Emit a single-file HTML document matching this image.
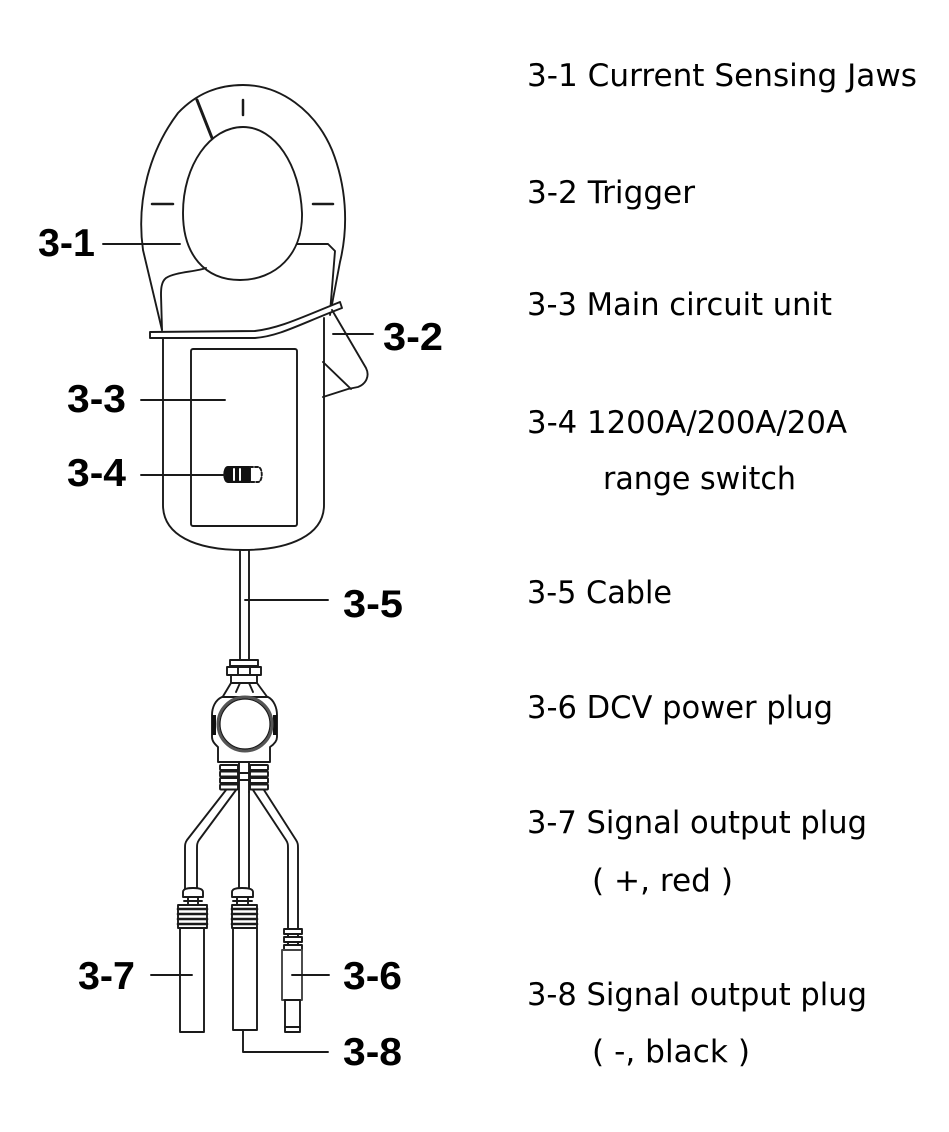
<!DOCTYPE html>
<html><head><meta charset="utf-8"><style>
html,body{margin:0;padding:0;background:#fff;}
svg{display:block;}
.r{font-family:"DejaVu Sans","Liberation Sans",sans-serif;font-size:31px;fill:#000;}
.b{font-family:"Liberation Sans",Arial,sans-serif;font-weight:bold;font-size:39px;fill:#000;}
</style></head><body>
<svg width="949" height="1132" viewBox="0 0 949 1132" xmlns="http://www.w3.org/2000/svg">
<rect width="949" height="1132" fill="#fff"/>
<g fill="none" stroke="#1a1a1a" stroke-width="1.9" stroke-linejoin="round" stroke-linecap="round">
  <!-- outer jaw -->
  <path d="M162 330 L143 250 C136 200 150 150 178 113 C198 92 220 85 243 85 C280 85 315 110 332 150 C346 185 349 225 340 262 L330 315"/>
  <!-- inner hole -->
  <path d="M243 127 C275 127 300 165 302 213 C303 255 275 280 240 280 C205 280 183 255 183 213 C183 165 210 127 243 127 Z"/>
  <!-- left lower jaw edge -->
  <path d="M206 268 C195 272 175 272 166 278 C161 282 161 290 161 295 L162 330"/>
  <!-- right lower jaw edge -->
  <path d="M297 244 L328 244 L335 251 L330 313"/>
  <!-- ticks -->
  <path d="M197 100 L212 138" stroke-width="3"/>
  <path d="M243 100 L243 115" stroke-width="2.5"/>
  <path d="M152 204 L173 204" stroke-width="2.5"/>
  <path d="M313 204 L333 204" stroke-width="2.5"/>
  <!-- body -->
  <path d="M163 338 L163 505 C163 535 195 550 243 550 C290 550 324 535 324 505 L324 318"/>
  <!-- band -->
  <path d="M150 332 L255 331 C280 328 300 318 340 302 L342 308 C300 324 280 336 255 338 L150 338 Z" fill="#fff"/>
  <!-- inner rect -->
  <rect x="191" y="349" width="106" height="177" rx="2"/>
  <!-- trigger -->
  <path d="M332 310 L366 368 C370 376 366 384 358 387 L348 389 L323 397"/>
  <path d="M323 362 L351 389"/>
  <!-- switch -->
  <path d="M250 467 L228 467 C223 467 223 482 228 482 L250 482 Z" fill="#111" stroke="#111"/>
  <path d="M234 469 L234 480 M240 469 L240 480" stroke="#fff" stroke-width="2"/>
  <path d="M250 467 L258 467 C263 467 263 482 258 482 L250 482" stroke-dasharray="3 2"/>
  <!-- cable -->
  <path d="M240 550 L240 660 M249 550 L249 660"/>
  <!-- connector top -->
  <rect x="230" y="660" width="28" height="6" fill="#fff"/>
  <rect x="227" y="667" width="34" height="8" fill="#fff"/>
  <path d="M238 667 L238 675 M250 667 L250 675"/>
  <rect x="231" y="675" width="26" height="8" fill="#fff"/>
  <path d="M231 683 L222 698 M257 683 L268 698"/>
  <path d="M240 683 L236 692 M249 683 L253 692"/>
  <!-- housing -->
  <path d="M222 697 C215 700 212 708 212 715 L212 737 C212 742 216 745 218 747 L218 762 L270 762 L270 747 C273 745 277 742 277 737 L277 715 C277 708 274 700 268 697 Z" fill="#fff"/>
  <rect x="212" y="715" width="4" height="20" fill="#111" stroke="none"/>
  <rect x="273" y="715" width="4" height="20" fill="#111" stroke="none"/>
  <circle cx="245" cy="724" r="27" stroke="#555" stroke-width="3"/>
  <circle cx="245" cy="724" r="25" stroke-width="1.2"/>
  <!-- ribs -->
  <rect x="220" y="765" width="18" height="5" rx="1" fill="#fff"/>
  <rect x="220" y="771.5" width="18" height="5" rx="1" fill="#fff"/>
  <rect x="220" y="778" width="18" height="5" rx="1" fill="#fff"/>
  <rect x="220" y="784.5" width="18" height="5" rx="1" fill="#fff"/>
  <rect x="250" y="765" width="18" height="5" rx="1" fill="#fff"/>
  <rect x="250" y="771.5" width="18" height="5" rx="1" fill="#fff"/>
  <rect x="250" y="778" width="18" height="5" rx="1" fill="#fff"/>
  <rect x="250" y="784.5" width="18" height="5" rx="1" fill="#fff"/>
  <path d="M238 773 L250 773 M238 780 L250 780 M239 762 L239 792 M249 762 L249 792"/>
  <!-- cables -->
  <path d="M226 790 L187 840 C185 843 185 845 185 848 L185 890"/>
  <path d="M236 790 L199 840 C197 843 197 845 197 848 L197 890"/>
  <path d="M239 792 L239 890 M249 792 L249 890"/>
  <path d="M253 790 L286 840 C288 843 288 845 288 848 L288 928"/>
  <path d="M264 790 L296 840 C298 843 298 845 298 848 L298 928"/>
  <!-- left plug 3-7 -->
  <path d="M183 897 L183 892 C183 889 187 888 193 888 C199 888 203 889 203 892 L203 897 Z" fill="#fff"/>
  <path d="M188 897 L188 905 M198 897 L198 905 M184 901 L202 901"/>
  <rect x="178" y="905" width="29" height="23" fill="#fff"/>
  <path d="M178 909 L207 909 M178 914 L207 914 M178 919 L207 919 M178 924 L207 924" stroke-width="2.6"/>
  <rect x="180" y="928" width="24" height="104" fill="#fff"/>
  <!-- center plug 3-8 -->
  <path d="M232 897 L232 892 C232 889 236 888 242 888 C248 888 253 889 253 892 L253 897 Z" fill="#fff"/>
  <path d="M237 897 L237 905 M248 897 L248 905 M233 901 L252 901"/>
  <rect x="232" y="905" width="25" height="23" fill="#fff"/>
  <path d="M232 909 L257 909 M232 914 L257 914 M232 919 L257 919 M232 924 L257 924" stroke-width="2.6"/>
  <rect x="233" y="928" width="24" height="102" fill="#fff"/>
  <!-- right plug 3-6 -->
  <rect x="284" y="929" width="18" height="5" fill="#fff"/>
  <rect x="284" y="937" width="18" height="5" fill="#fff"/>
  <rect x="284" y="945" width="18" height="5" fill="#fff"/>
  <path d="M288 934 L288 937 M298 934 L298 937 M288 942 L288 945 M298 942 L298 945"/>
  <rect x="282" y="950" width="20" height="50" fill="#fff" stroke="#444"/>
  <rect x="285" y="1000" width="15" height="32" fill="#fff"/>
  <path d="M285 1027 L300 1027"/>
  <!-- leaders -->
  <path d="M103 244 L180 244"/>
  <path d="M333 334 L373 334"/>
  <path d="M141 400 L225 400"/>
  <path d="M141 475 L225 475"/>
  <path d="M245 600 L328 600"/>
  <path d="M292 975 L329 975"/>
  <path d="M151 975 L192 975"/>
  <path d="M243 1030 L243 1052 L328 1052"/>
</g>
<!-- left bold labels -->
<text class="b" x="38" y="256" textLength="57" lengthAdjust="spacingAndGlyphs">3-1</text>
<text class="b" x="383" y="350" textLength="60" lengthAdjust="spacingAndGlyphs">3-2</text>
<text class="b" x="67" y="412" textLength="59" lengthAdjust="spacingAndGlyphs">3-3</text>
<text class="b" x="67" y="486" textLength="59" lengthAdjust="spacingAndGlyphs">3-4</text>
<text class="b" x="343" y="617" textLength="60" lengthAdjust="spacingAndGlyphs">3-5</text>
<text class="b" x="343" y="989" textLength="59" lengthAdjust="spacingAndGlyphs">3-6</text>
<text class="b" x="78" y="989" textLength="57" lengthAdjust="spacingAndGlyphs">3-7</text>
<text class="b" x="343" y="1065" textLength="59" lengthAdjust="spacingAndGlyphs">3-8</text>
<!-- right descriptions -->
<text class="r" x="527" y="86" textLength="390" lengthAdjust="spacingAndGlyphs">3-1 Current Sensing Jaws</text>
<text class="r" x="527" y="203" textLength="168" lengthAdjust="spacingAndGlyphs">3-2 Trigger</text>
<text class="r" x="527" y="315" textLength="305" lengthAdjust="spacingAndGlyphs">3-3 Main circuit unit</text>
<text class="r" x="527" y="433" textLength="320" lengthAdjust="spacingAndGlyphs">3-4 1200A/200A/20A</text>
<text class="r" x="603" y="489" textLength="193" lengthAdjust="spacingAndGlyphs">range switch</text>
<text class="r" x="527" y="603" textLength="145" lengthAdjust="spacingAndGlyphs">3-5 Cable</text>
<text class="r" x="527" y="718" textLength="306" lengthAdjust="spacingAndGlyphs">3-6 DCV power plug</text>
<text class="r" x="527" y="833" textLength="340" lengthAdjust="spacingAndGlyphs">3-7 Signal output plug</text>
<text class="r" x="592" y="891" textLength="141" lengthAdjust="spacingAndGlyphs">( +, red )</text>
<text class="r" x="527" y="1005" textLength="340" lengthAdjust="spacingAndGlyphs">3-8 Signal output plug</text>
<text class="r" x="592" y="1062" textLength="158" lengthAdjust="spacingAndGlyphs">( -, black )</text>
</svg>
</body></html>
